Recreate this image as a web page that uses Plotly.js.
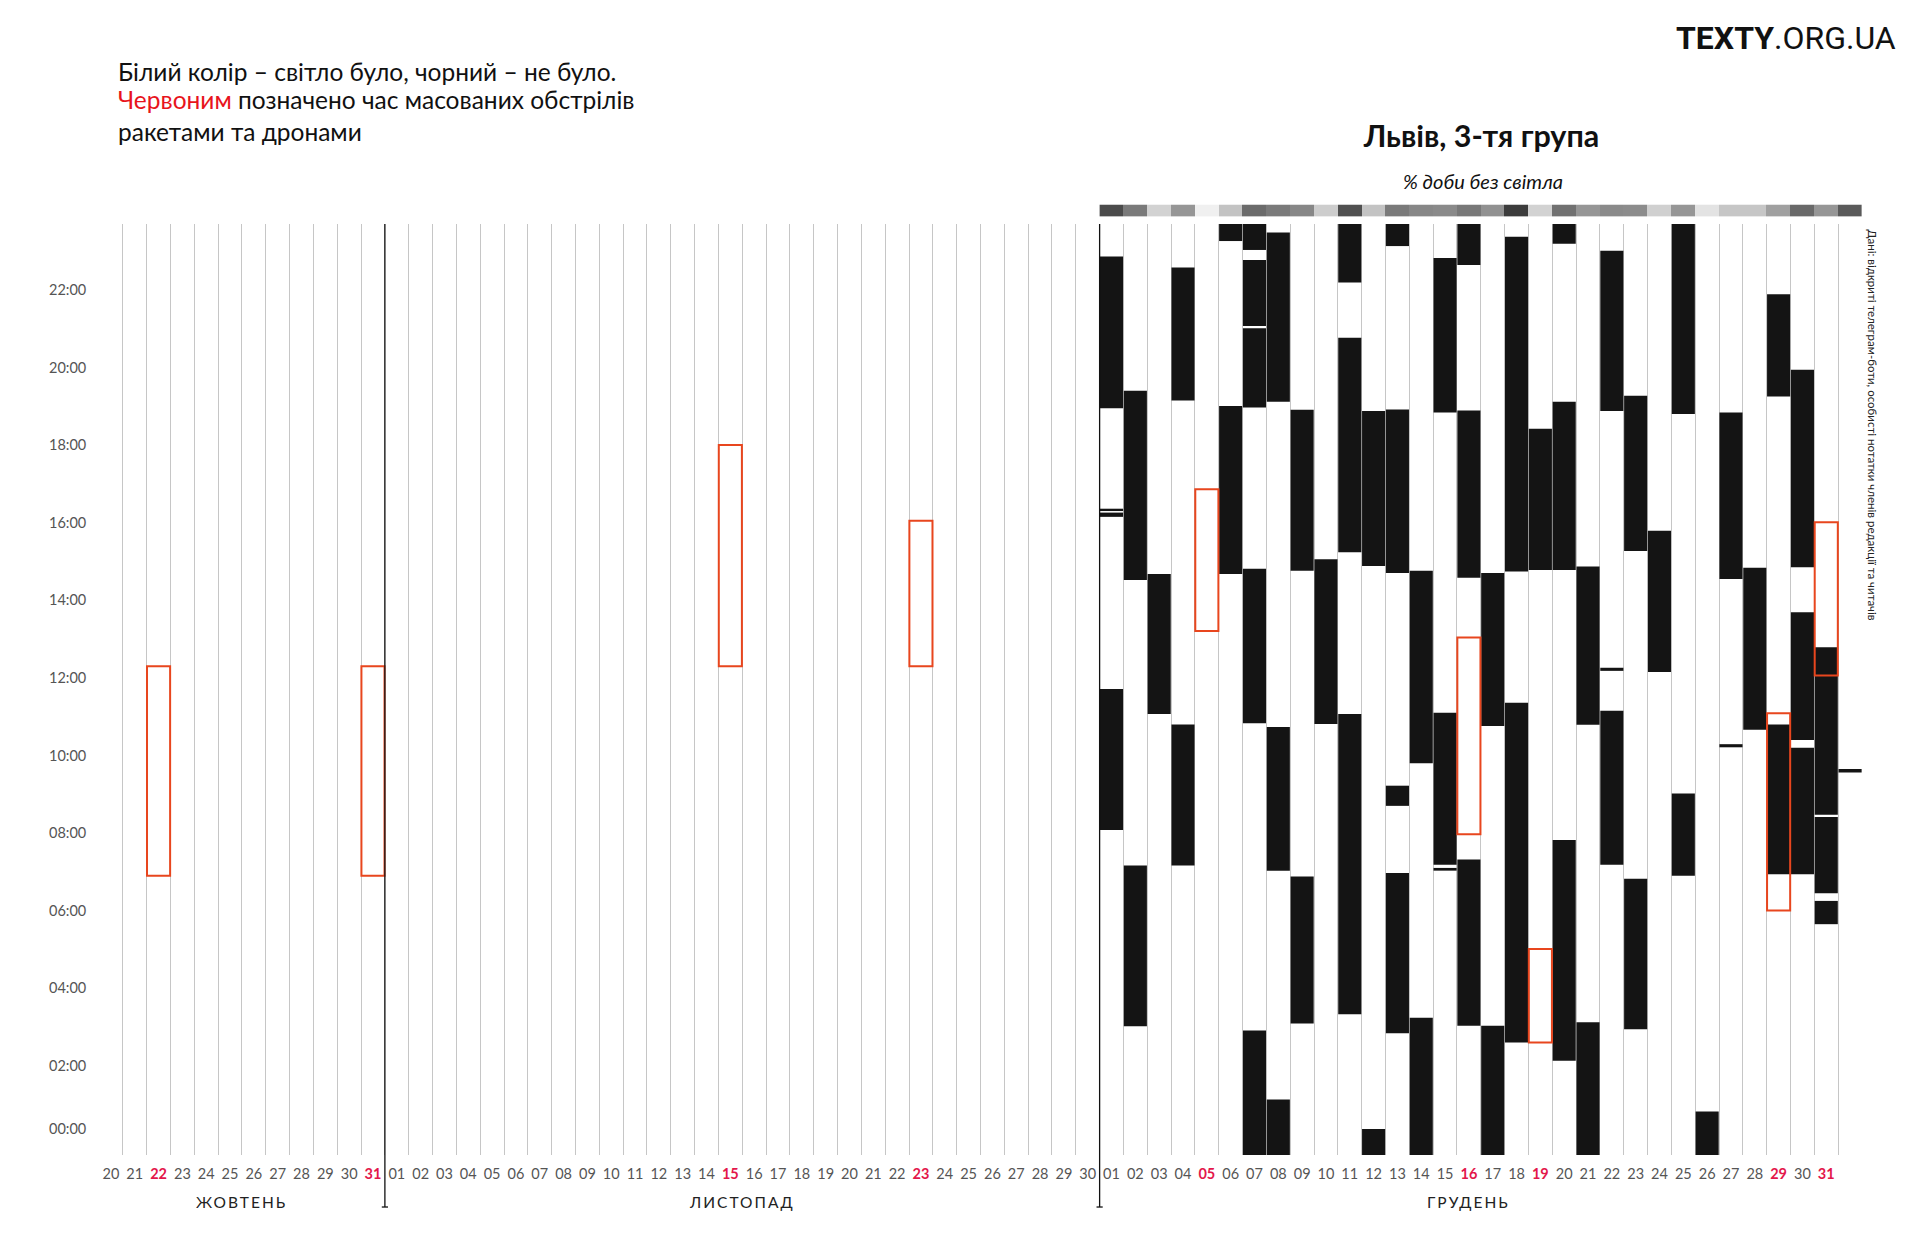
<!DOCTYPE html>
<html><head><meta charset="utf-8">
<script src="https://cdn.plot.ly/plotly-3.0.1.min.js"></script>
<style>html,body{margin:0;padding:0;background:#fff;} #chart{width:1920px;height:1258px;}</style>
</head><body><div id="chart"></div>
<script>
// ---------- DATA ----------
const startDate = '2022-10-20';
const dayLabels = ['20','21','22','23','24','25','26','27','28','29','30','31',
  '01','02','03','04','05','06','07','08','09','10','11','12','13','14','15','16','17','18','19','20','21','22','23','24','25','26','27','28','29','30',
  '01','02','03','04','05','06','07','08','09','10','11','12','13','14','15','16','17','18','19','20','21','22','23','24','25','26','27','28','29','30','31'];
const highlightDates = ['2022-10-22','2022-10-31','2022-11-15','2022-11-23','2022-12-05','2022-12-16','2022-12-19','2022-12-29','2022-12-31'];
const monthNames = ['ЖОВТЕНЬ','ЛИСТОПАД','ГРУДЕНЬ'];
const monthFirst = ['2022-10-20','2022-11-01','2022-12-01'];
const monthLast  = ['2022-10-31','2022-11-30','2022-12-31'];
const hourTicks = [0,2,4,6,8,10,12,14,16,18,20,22];
const hourLabels = ['00:00','02:00','04:00','06:00','08:00','10:00','12:00','14:00','16:00','18:00','20:00','22:00'];

// outages (no electricity): date, from hour, to hour
const outageDate = [
 '2022-12-01','2022-12-01','2022-12-01','2022-12-01',
 '2022-12-02','2022-12-02',
 '2022-12-03',
 '2022-12-04','2022-12-04',
 '2022-12-06','2022-12-06',
 '2022-12-07','2022-12-07','2022-12-07','2022-12-07','2022-12-07',
 '2022-12-08','2022-12-08','2022-12-08',
 '2022-12-09','2022-12-09',
 '2022-12-10',
 '2022-12-11','2022-12-11','2022-12-11',
 '2022-12-12','2022-12-12',
 '2022-12-13','2022-12-13','2022-12-13','2022-12-13',
 '2022-12-14','2022-12-14',
 '2022-12-15','2022-12-15','2022-12-15',
 '2022-12-16','2022-12-16','2022-12-16',
 '2022-12-17','2022-12-17',
 '2022-12-18','2022-12-18',
 '2022-12-19',
 '2022-12-20','2022-12-20','2022-12-20',
 '2022-12-21','2022-12-21',
 '2022-12-22','2022-12-22','2022-12-22',
 '2022-12-23','2022-12-23',
 '2022-12-24',
 '2022-12-25','2022-12-25',
 '2022-12-26',
 '2022-12-27','2022-12-27',
 '2022-12-28',
 '2022-12-29','2022-12-29',
 '2022-12-30','2022-12-30','2022-12-30',
 '2022-12-31','2022-12-31','2022-12-31',
 '2023-01-01'];
const outageFrom = [
 19.25,16.60,16.45,8.38,
 14.82,3.32,
 11.37,
 19.45,7.46,
 23.56,14.98,
 23.33,21.37,19.27,11.13,0,
 19.42,7.33,0,
 15.06,3.39,
 11.11,
 22.49,15.54,3.63,
 15.18,0,
 23.43,15.00,9.00,3.14,
 10.10,0,
 19.14,7.48,7.33,
 22.94,14.88,3.33,
 11.06,0,
 15.04,2.90,
 15.08,
 23.49,15.08,2.43,
 11.09,0,
 19.18,12.48,7.48,
 15.57,3.24,
 12.45,
 19.10,7.20,
 0,
 14.85,10.51,
 10.96,
 19.55,7.24,
 15.15,10.70,7.24,
 8.77,6.75,5.95,
 9.86];
const outageTo = [
 23.16,16.66,16.56,12.01,
 19.70,7.46,
 14.98,
 22.88,11.10,
 24,19.31,
 24,23.07,21.31,15.11,3.21,
 23.78,11.03,1.43,
 19.21,7.18,
 15.36,
 24,21.07,11.37,
 19.18,0.67,
 24,19.22,9.52,7.27,
 15.06,3.54,
 23.12,11.40,7.40,
 24,19.19,7.62,
 15.00,3.33,
 23.67,11.66,
 18.72,
 24,19.42,8.12,
 15.17,3.42,
 23.31,12.56,11.45,
 19.57,7.12,
 16.09,
 24,9.32,
 1.12,
 19.14,10.59,
 15.14,
 22.19,11.10,
 20.24,13.99,10.50,
 13.09,8.71,6.55,
 9.95];

// massive missile & drone attacks
const attackDate = ['2022-10-22','2022-10-31','2022-11-15','2022-11-23','2022-12-05','2022-12-16','2022-12-19','2022-12-29','2022-12-31'];
const attackFrom = [7.2, 7.2, 12.6, 12.6, 13.51, 8.27, 2.90, 6.30, 12.36];
const attackTo   = [12.6, 12.6, 18.3, 16.35, 17.16, 13.34, 5.31, 11.39, 16.31];

// % of the day without electricity (top strip)
const stripDate = ['2022-12-01','2022-12-02','2022-12-03','2022-12-04','2022-12-05','2022-12-06','2022-12-07','2022-12-08',
 '2022-12-09','2022-12-10','2022-12-11','2022-12-12','2022-12-13','2022-12-14','2022-12-15','2022-12-16','2022-12-17',
 '2022-12-18','2022-12-19','2022-12-20','2022-12-21','2022-12-22','2022-12-23','2022-12-24','2022-12-25','2022-12-26',
 '2022-12-27','2022-12-28','2022-12-29','2022-12-30','2022-12-31','2023-01-01'];
const stripPct = [66,47,12,36,0,18,53,47,42,14,64,18,47,42,41,48,38,72,12,51,36,41,40,13,36,5,17,17,32,54,36,60];

// ---------- CHART ----------
const FONT = 'Lato, "Noto Sans", sans-serif';
const idx = d => Math.round((Date.parse(d) - Date.parse(startDate)) / 864e5);
const hl = new Set(highlightDates.map(idx));
const tickVals = dayLabels.map((_, i) => i);
const tickText = dayLabels.map((t, i) => hl.has(i) ? '<b><span style="color:#e3174b">' + t + '</span></b>' : t);
const boundaries = dayLabels.map((_, i) => i + 0.5);

const traces = [
  {type:'heatmap', x: stripDate.map(idx), y:[0], z:[stripPct], xaxis:'x2', yaxis:'y2',
   colorscale:[[0,'#ffffff'],[1,'#000000']], zmin:-6, zmax:96, showscale:false, hoverinfo:'skip'},
  {type:'bar', x: outageDate.map(idx), base: outageFrom, y: outageTo.map((v,i)=>v-outageFrom[i]),
   width:0.97, marker:{color:'#141414', line:{width:0}}, hoverinfo:'skip'},
  {type:'bar', x: attackDate.map(idx), base: attackFrom, y: attackTo.map((v,i)=>v-attackFrom[i]),
   width:0.97, marker:{color:'rgba(0,0,0,0)', line:{color:'#e8461e', width:2}}, hoverinfo:'skip'}
];

const sepX = [idx('2022-11-01') - 0.5, idx('2022-12-01') - 0.5];
const shapes = [];
sepX.forEach(x => {
  shapes.push({type:'line', xref:'x', yref:'paper', x0:x, x1:x, y0:-0.0547, y1:0.979, line:{color:'#111', width:1.3}});
  shapes.push({type:'line', xref:'x', yref:'paper', x0:x-0.13, x1:x+0.13, y0:-0.0547, y1:-0.0547, line:{color:'#111', width:1.3}});
});

const annotations = [];
hourTicks.forEach((h, i) => annotations.push({xref:'paper', yref:'y', x:-0.0062, y:h, xanchor:'right', yanchor:'middle',
  yshift: h === 0 ? 27 : 12, text: hourLabels[i], showarrow:false, font:{family:FONT, size:14.5, color:'#555'}}));
monthNames.forEach((m, i) => annotations.push({xref:'x', yref:'paper', x:(idx(monthFirst[i]) + idx(monthLast[i]))/2, y:-0.0498,
  xanchor:'center', yanchor:'middle', text:m, showarrow:false, font:{family:FONT, size:15.5, color:'#222'}}));
annotations.push(
  {xref:'paper', yref:'paper', x:0.0096, y:1.1398, xanchor:'left', yanchor:'middle', showarrow:false,
   text:'Білий колір – світло було, чорний – не було.', font:{family:FONT, size:24.5, color:'#111'}},
  {xref:'paper', yref:'paper', x:0.0096, y:1.1094, xanchor:'left', yanchor:'middle', showarrow:false,
   text:'<span style="color:#e8141c">Червоним</span> позначено час масованих обстрілів', font:{family:FONT, size:24.5, color:'#111'}},
  {xref:'paper', yref:'paper', x:0.0096, y:1.0767, xanchor:'left', yanchor:'middle', showarrow:false,
   text:'ракетами та дронами', font:{family:FONT, size:24.5, color:'#111'}},
  {xref:'paper', yref:'paper', x:1.0204, y:1.1745, xanchor:'right', yanchor:'middle', showarrow:false,
   text:'<b>TEXTY</b>.ORG.UA', font:{family:'Roboto, sans-serif', size:32, color:'#111'}},
  {xref:'paper', yref:'paper', x:0.7850, y:1.0242, xanchor:'center', yanchor:'middle', showarrow:false,
   text:'<i>% доби без світла</i>', font:{family:FONT, size:20, color:'#111'}},
  {xref:'paper', yref:'paper', x:1.0062, y:0.7671, xanchor:'center', yanchor:'middle', showarrow:false, textangle:90,
   text:'Дані: відкриті телеграм-боти, особисті нотатки членів редакції та читачів', font:{family:FONT, size:11.5, color:'#222'}}
);

const layout = {
  width:1920, height:1258,
  margin:{l:99, r:58, t:204, b:103, pad:0},
  paper_bgcolor:'#fff', plot_bgcolor:'#fff',
  showlegend:false, barmode:'overlay',
  title:{text:'<b>Львів, 3-тя група</b>', font:{family:FONT, size:30.5, color:'#111'},
    x:0.7716, xref:'container', xanchor:'center', y:0.892, yref:'container', yanchor:'middle'},
  xaxis:{range:[-0.5, 73.5], tickmode:'array', tickvals:tickVals, ticktext:tickText, ticks:'', showgrid:false,
    zeroline:false, showline:false, tickangle:0, ticklabelstandoff:8, tickfont:{family:FONT, size:14.5, color:'#555'}, fixedrange:true,
    minor:{tickmode:'array', tickvals:boundaries, showgrid:true, gridcolor:'#c6c6c6', gridwidth:1, ticks:''}},
  xaxis2:{matches:'x', anchor:'y2', visible:false, showgrid:false, fixedrange:true},
  yaxis:{domain:[0, 0.979], range:[0, 24], showgrid:false, zeroline:false, showticklabels:false, showline:false, fixedrange:true},
  yaxis2:{domain:[0.9867, 0.9995], range:[-0.5, 0.5], anchor:'x2', visible:false, fixedrange:true},
  shapes: shapes,
  annotations: annotations
};

Plotly.newPlot('chart', traces, layout, {displayModeBar:false, staticPlot:true}).then(() => {
  document.querySelectorAll('.annotation-text').forEach(el => {
    if (monthNames.includes(el.textContent)) el.style.letterSpacing = '2px';
  });
});
</script>
</body></html>
